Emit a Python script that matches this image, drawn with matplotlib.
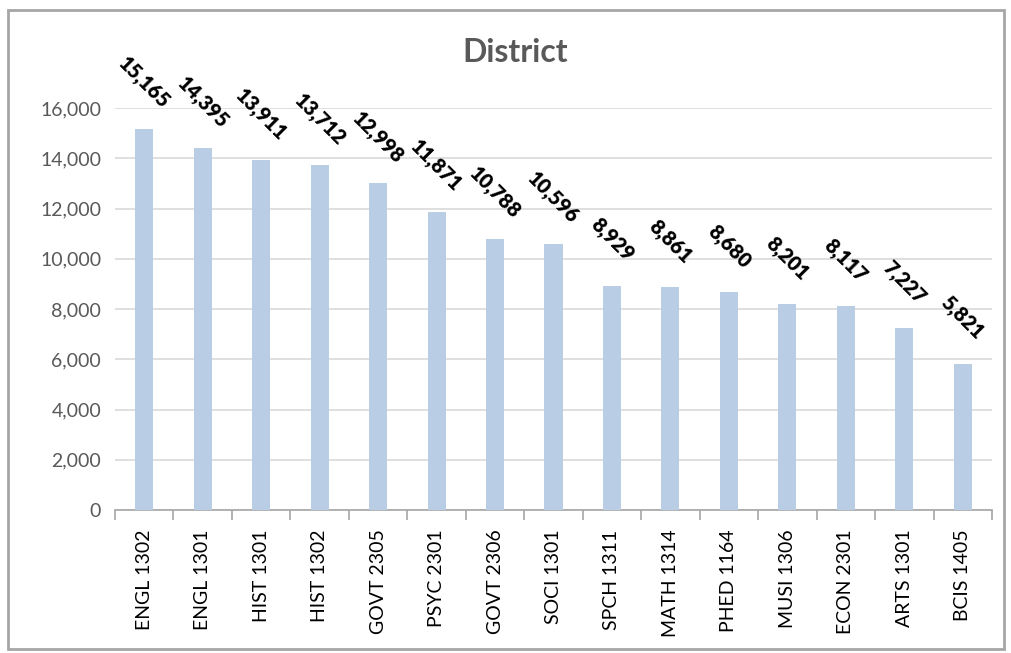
import matplotlib
matplotlib.use("Agg")
import matplotlib.pyplot as plt
from matplotlib.patches import Rectangle
from matplotlib.ticker import FuncFormatter, FixedLocator

courses = ["ENGL 1302", "ENGL 1301", "HIST 1301", "HIST 1302", "GOVT 2305",
           "PSYC 2301", "GOVT 2306", "SOCI 1301", "SPCH 1311", "MATH 1314",
           "PHED 1164", "MUSI 1306", "ECON 2301", "ARTS 1301", "BCIS 1405"]
enrollment = [15165, 14395, 13911, 13712, 12998, 11871, 10788, 10596, 8929,
              8861, 8680, 8201, 8117, 7227, 5821]
yticks = [0, 2000, 4000, 6000, 8000, 10000, 12000, 14000, 16000]

plt.rcParams['font.family'] = ['Lato', 'DejaVu Sans']

fig = plt.figure(figsize=(10.11, 6.53), dpi=100)
ax = fig.add_axes([115/1011, 1-510/653, (992-115)/1011, (510-108)/653])

x = list(range(len(courses)))
bars = ax.bar(x, enrollment, width=0.31, color="#B9CDE5", zorder=3)
ax.set_xlim(-0.5, len(courses)-0.5)
ax.set_ylim(0, 16000)
ax.set_yticks(yticks)
ax.yaxis.set_major_formatter(FuncFormatter(lambda v, p: f"{int(v):,}"))
ax.grid(axis="y", color="#D9D9D9", linewidth=1.2, zorder=0)
ax.set_xticks(x)
ax.set_xticklabels(courses, rotation=90, fontsize=14, color="black")
ax.xaxis.set_minor_locator(FixedLocator([i - 0.5 for i in range(len(courses)+1)]))
ax.tick_params(axis="x", which="major", length=0, pad=14)
ax.tick_params(axis="x", which="minor", length=7, color="#A6A6A6", width=1.2)
ax.tick_params(axis="y", length=0, labelsize=14, labelcolor="#595959", pad=10)
for s in ["top", "right", "left"]:
    ax.spines[s].set_visible(False)
ax.spines["bottom"].set_color("#A6A6A6")
ax.spines["bottom"].set_linewidth(1.2)

for xi, v in zip(x, enrollment):
    ax.annotate(f"{v:,}", (xi, v), xytext=(0, 33), textcoords="offset points",
                ha="center", va="center", rotation=-45, rotation_mode="anchor",
                fontsize=14.5, fontweight="heavy", color="black", annotation_clip=False)

fig.text(515/1011, 1-52/653, "District", ha="center", va="center",
         fontsize=23, fontweight="bold", color="#595959")

fig.patches.append(Rectangle((8/1011, 1-649/653), (1004-8)/1011, (649-10)/653,
                             transform=fig.transFigure, fill=False,
                             edgecolor="#A6A6A6", linewidth=2))

fig.savefig("out.png", dpi=100)
